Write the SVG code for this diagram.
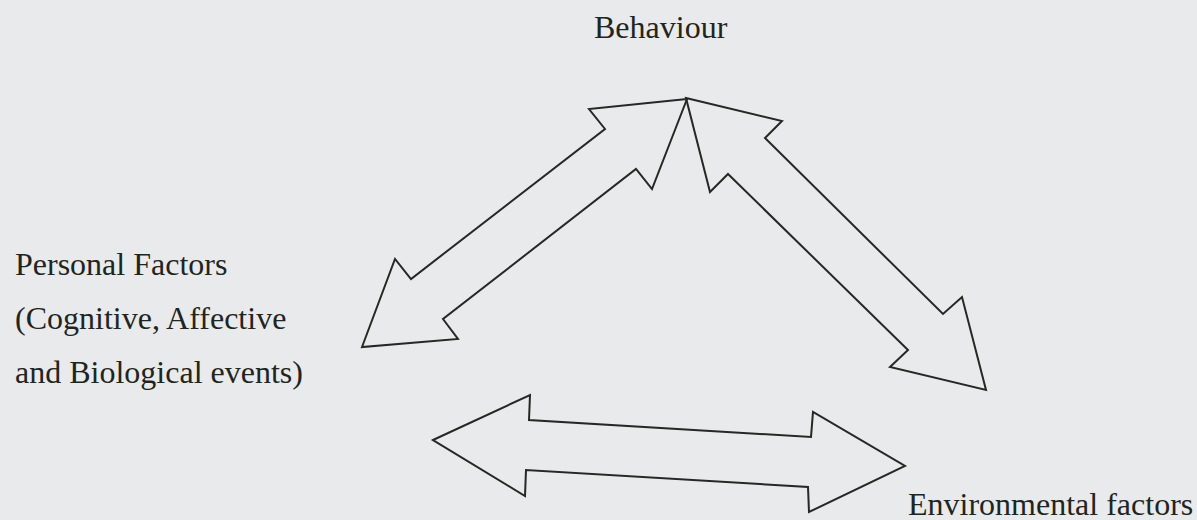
<svg xmlns="http://www.w3.org/2000/svg" width="1197" height="520" viewBox="0 0 1197 520">
  <style>
    .label { font-family: "Liberation Serif", "Times New Roman", serif; font-size: 32px; fill: #1f2520; }
    .arrow { fill: none; stroke: #262826; stroke-width: 2; stroke-linejoin: miter; }
  </style>
  <rect width="1197" height="520" fill="#e9eaec"/>

  <g id="behaviour">
    <text class="label" x="594" y="38">Behaviour</text>
  </g>

  <g id="personal-factors">
    <text class="label" x="15" y="275">Personal Factors</text>
    <text class="label" x="15" y="329">(Cognitive, Affective</text>
    <text class="label" x="15" y="383">and Biological events)</text>
  </g>

  <g id="environmental-factors">
    <text class="label" x="908" y="515">Environmental factors</text>
  </g>

  <g id="connectors">
    <!-- Behaviour <-> Personal Factors -->
    <path class="arrow" d="M687,99 L589,109 L605,129 L411,279 L395,259 L362,347 L458,339 L443,319 L636,169 L652,189 Z"/>
    <!-- Behaviour <-> Environmental factors -->
    <path class="arrow" d="M686,98 L782,121 L765,138 L943,314 L962,297 L986,390 L890,367 L908,350 L728,174 L710,192 Z"/>
    <!-- Personal Factors <-> Environmental factors -->
    <path class="arrow" d="M433,440 L530,395 L529,420 L811,437 L813,412 L905,466 L809,512 L808,487 L526,470 L525,496 Z"/>
  </g>
</svg>
